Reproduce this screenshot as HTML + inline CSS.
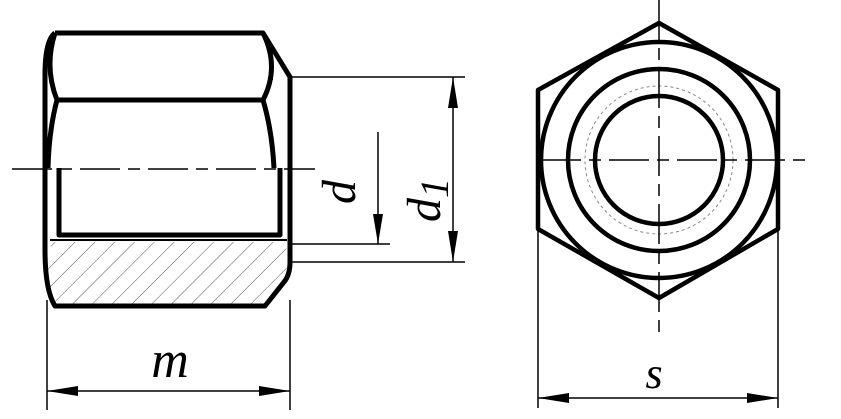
<!DOCTYPE html>
<html><head><meta charset="utf-8"><style>html,body{margin:0;padding:0;background:#fff}svg{display:block}</style></head>
<body>
<svg width="841" height="419" viewBox="0 0 841 419" xmlns="http://www.w3.org/2000/svg">
<defs>
<pattern id="h" width="14" height="14" patternUnits="userSpaceOnUse" patternTransform="rotate(45)">
<line x1="0" y1="0" x2="0" y2="14" stroke="#555" stroke-width="1"/>
</pattern>
</defs>
<g fill="none" stroke="#000" stroke-linejoin="round">
<!-- hatch area -->
<path d="M52,242 L285,242 Q290,262 284,280 L265,306 L55,306 Q46,290 47,262 Z" fill="url(#h)" stroke="none"/>
<!-- outer contour -->
<path d="M55,33 L263,33 L290,77 L290,262 Q290,275 284,282 L265,306 L55,306 Q45,290 45,250 L45,75 Q45,40 55,33" stroke-width="5"/>
<!-- top band -->
<path d="M55,33 Q44,67 57,100 L263,100 Q280,67 263,33" stroke-width="5"/>
<path d="M57,100 Q49,130 48,168" stroke-width="5"/>
<path d="M263,100 Q272,130 274,168" stroke-width="5"/>
<path d="M272,77 L272,80" stroke-width="2"/>
<!-- bore -->
<path d="M59,168 L59,235 L280,235 L280,168" stroke-width="5"/>
<path d="M50,240 L287,240" stroke-width="2"/>
<!-- centerline -->
<path d="M12,169 L315,169" stroke-width="1.5" stroke-dasharray="40,8,12,8"/>
<!-- dims left -->
<g stroke-width="1.5">
<path d="M290,77 L465,77 M290,262 L465,262 M453,77 L453,262"/>
<path d="M290,244 L390,244 M378,132 L378,244"/>
<path d="M47,300 L47,410 M290,300 L290,410 M47,391 L290,391"/>
<path d="M538,229 L538,408 M778,229 L778,408 M538,398 L778,398"/>
</g>
<!-- right view -->
<path d="M659,23 L778,90 L778,229 L659,298 L538,229 L538,90 Z" stroke-width="4.5"/>
<circle cx="659" cy="160" r="118" stroke-width="4.5"/>
<circle cx="659" cy="160" r="91" stroke-width="4.5"/>
<circle cx="659" cy="160" r="64" stroke-width="4.5"/>
<circle cx="659" cy="160" r="74" stroke="#888" stroke-width="1" stroke-dasharray="3,3"/>
<path d="M659,0 L659,340" stroke-width="1.5" stroke-dasharray="40,8,12,8"/>
<path d="M541,160 L810,160" stroke-width="1.5" stroke-dasharray="40,8,12,8"/>
</g>
<g fill="#000">
<path d="M453,77 L448,108 L458,108 Z"/><path d="M453,262 L448,231 L458,231 Z"/>
<path d="M378,244 L373,214 L383,214 Z"/>
<path d="M47,391 L78,386 L78,396 Z"/><path d="M290,391 L259,386 L259,396 Z"/>
<path d="M538,398 L569,393 L569,403 Z"/><path d="M778,398 L747,393 L747,403 Z"/>
</g>
<g font-family="Liberation Serif, serif" font-style="italic" fill="#000">
<text x="170" y="377" font-size="52" text-anchor="middle">m</text>
<text x="654" y="388" font-size="44" text-anchor="middle">s</text>
<text transform="translate(355,192) rotate(-90)" font-size="48" text-anchor="middle">d</text>
<text transform="translate(440,200) rotate(-90)" font-size="48" text-anchor="middle">d<tspan font-size="40" dy="8">1</tspan></text>
</g>
</svg>
</body></html>
